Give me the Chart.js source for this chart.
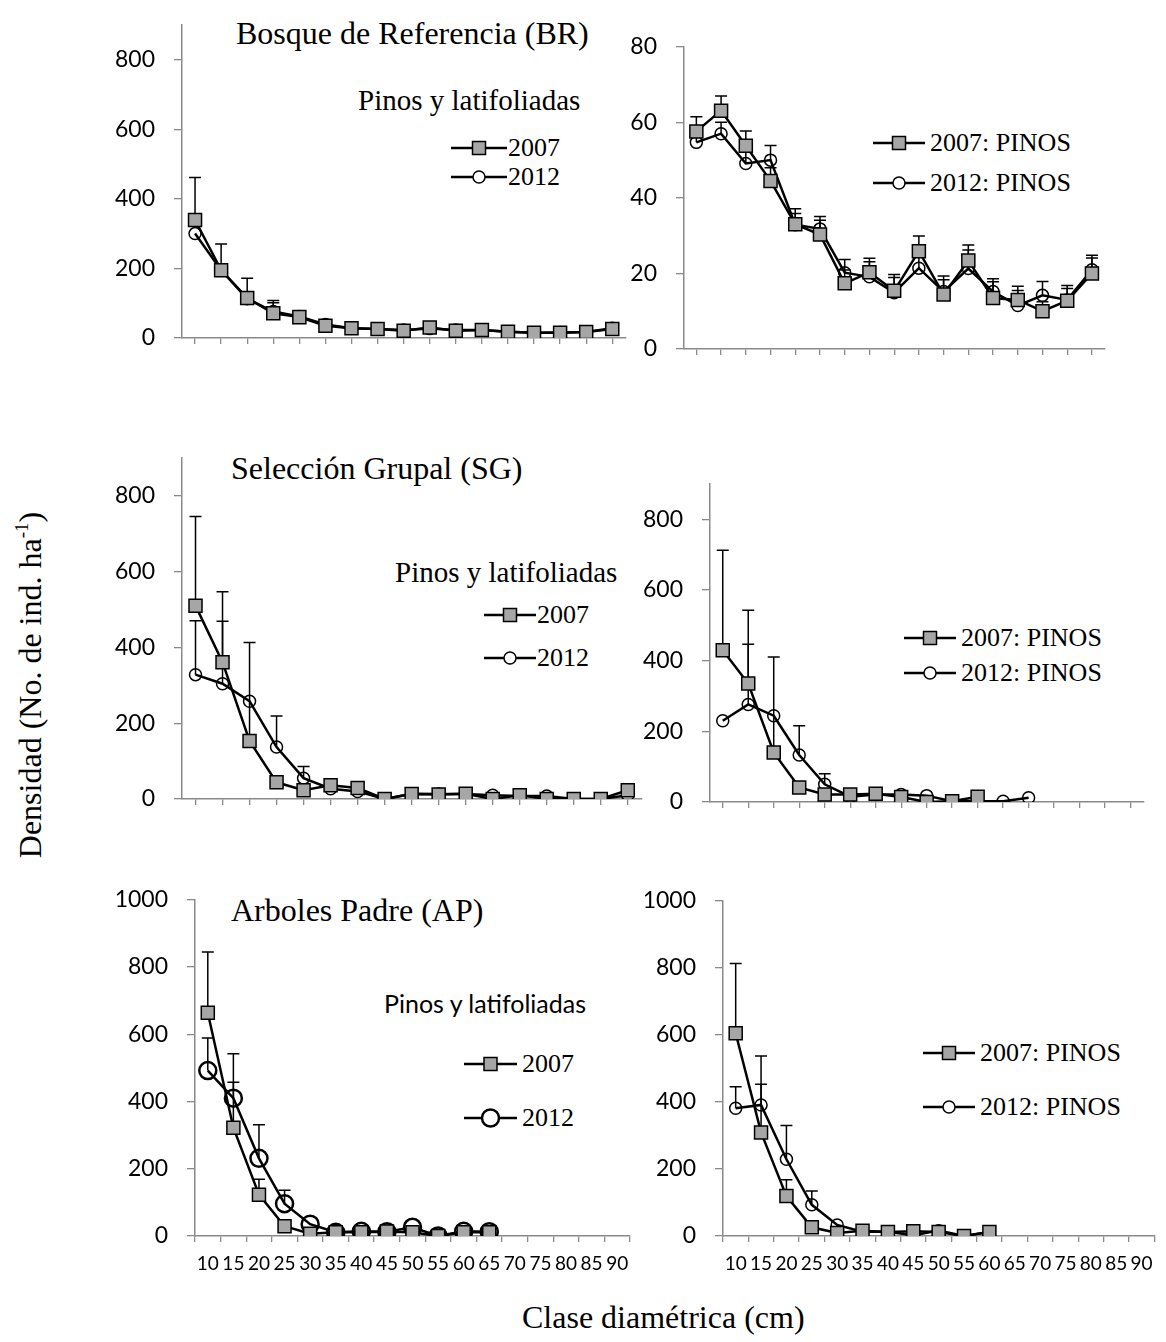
<!DOCTYPE html>
<html>
<head>
<meta charset="utf-8">
<script src="https://cdn.jsdelivr.net/npm/chart.js@4.4.1/dist/chart.umd.min.js"></script>
<style>
body{margin:0;background:#fff;width:1166px;height:1342px;position:relative;overflow:hidden}
.caja{position:absolute}
.t{position:absolute;white-space:nowrap;line-height:1;color:#000;font-family:'Liberation Serif','Times New Roman',serif}
.s{font-family:'Lato',sans-serif}
svg{position:absolute}
</style>
</head>
<body>

<!-- textos -->
<div class="t" style="left:236px;top:17px;font-size:32px">Bosque de Referencia (BR)</div>
<div class="t" style="left:358px;top:86px;font-size:29px">Pinos y latifoliadas</div>
<div class="t" style="left:508px;top:135px;font-size:26px">2007</div>
<div class="t" style="left:508px;top:164px;font-size:26px">2012</div>

<div class="t" style="left:930px;top:130px;font-size:26px">2007: PINOS</div>
<div class="t" style="left:930px;top:170px;font-size:26px">2012: PINOS</div>

<div class="t" style="left:231px;top:452px;font-size:32px">Selección Grupal (SG)</div>
<div class="t" style="left:395px;top:558px;font-size:29px">Pinos y latifoliadas</div>
<div class="t" style="left:537px;top:602px;font-size:26px">2007</div>
<div class="t" style="left:537px;top:645px;font-size:26px">2012</div>

<div class="t" style="left:961px;top:625px;font-size:26px">2007: PINOS</div>
<div class="t" style="left:961px;top:660px;font-size:26px">2012: PINOS</div>

<div class="t" style="left:231px;top:894px;font-size:32px">Arboles Padre (AP)</div>
<div class="t s" style="left:384px;top:991px;font-size:25px">Pinos y latifoliadas</div>
<div class="t" style="left:522px;top:1051px;font-size:26px">2007</div>
<div class="t" style="left:522px;top:1105px;font-size:26px">2012</div>

<div class="t" style="left:980px;top:1040px;font-size:26px">2007: PINOS</div>
<div class="t" style="left:980px;top:1094px;font-size:26px">2012: PINOS</div>

<div class="t" style="left:30px;top:685px;font-size:32px;transform:translate(-50%,-50%) rotate(-90deg)">Densidad (No. de ind. ha<span style="font-size:19px;position:relative;top:-13px">-1</span>)</div>
<div class="t" style="left:522px;top:1301px;font-size:32px">Clase diamétrica (cm)</div>

<!-- simbolos de leyenda -->
<svg style="left:451px;top:136px" width="56" height="24"><line x1="0" y1="12" x2="56" y2="12" stroke="#000" stroke-width="2.5"/><rect x="21.5" y="5.5" width="13" height="13" fill="#a6a6a6" stroke="#000" stroke-width="1.5"/></svg>
<svg style="left:451px;top:165px" width="56" height="24"><line x1="0" y1="12" x2="56" y2="12" stroke="#000" stroke-width="2.5"/><circle cx="28" cy="12" r="6" fill="#fff" stroke="#000" stroke-width="1.5"/></svg>

<svg style="left:873px;top:131px" width="52" height="24"><line x1="0" y1="12" x2="52" y2="12" stroke="#000" stroke-width="2.5"/><rect x="19.5" y="5.5" width="13" height="13" fill="#a6a6a6" stroke="#000" stroke-width="1.5"/></svg>
<svg style="left:873px;top:171px" width="52" height="24"><line x1="0" y1="12" x2="52" y2="12" stroke="#000" stroke-width="2.5"/><circle cx="26" cy="12" r="6" fill="#fff" stroke="#000" stroke-width="1.5"/></svg>

<svg style="left:484px;top:603px" width="52" height="24"><line x1="0" y1="12" x2="52" y2="12" stroke="#000" stroke-width="2.5"/><rect x="19.5" y="5.5" width="13" height="13" fill="#a6a6a6" stroke="#000" stroke-width="1.5"/></svg>
<svg style="left:484px;top:646px" width="52" height="24"><line x1="0" y1="12" x2="52" y2="12" stroke="#000" stroke-width="2.5"/><circle cx="26" cy="12" r="6" fill="#fff" stroke="#000" stroke-width="1.5"/></svg>

<svg style="left:904px;top:626px" width="52" height="24"><line x1="0" y1="12" x2="52" y2="12" stroke="#000" stroke-width="2.5"/><rect x="19.5" y="5.5" width="13" height="13" fill="#a6a6a6" stroke="#000" stroke-width="1.5"/></svg>
<svg style="left:904px;top:661px" width="52" height="24"><line x1="0" y1="12" x2="52" y2="12" stroke="#000" stroke-width="2.5"/><circle cx="26" cy="12" r="6" fill="#fff" stroke="#000" stroke-width="1.5"/></svg>

<svg style="left:464px;top:1052px" width="53" height="24"><line x1="0" y1="12" x2="53" y2="12" stroke="#000" stroke-width="2.5"/><rect x="20" y="5.5" width="13" height="13" fill="#a6a6a6" stroke="#000" stroke-width="1.5"/></svg>
<svg style="left:464px;top:1106px" width="53" height="24"><line x1="0" y1="12" x2="53" y2="12" stroke="#000" stroke-width="2.5"/><circle cx="26.5" cy="12" r="8.5" fill="#fff" stroke="#000" stroke-width="2.5"/></svg>

<svg style="left:923px;top:1041px" width="52" height="24"><line x1="0" y1="12" x2="52" y2="12" stroke="#000" stroke-width="2.5"/><rect x="19.5" y="5.5" width="13" height="13" fill="#a6a6a6" stroke="#000" stroke-width="1.5"/></svg>
<svg style="left:923px;top:1095px" width="52" height="24"><line x1="0" y1="12" x2="52" y2="12" stroke="#000" stroke-width="2.5"/><circle cx="26" cy="12" r="6" fill="#fff" stroke="#000" stroke-width="1.5"/></svg>

<script>
// Clases diametricas (cm)
const clases = ['10','15','20','25','30','35','40','45','50','55','60','65','70','75','80','85','90'];

// Bosque de Referencia - pinos y latifoliadas
const br2007 = [339,195,115,71,60,35,28,26,21,30,21,23,18,15,15,17,26];
const br2012 = [300,195,113,76,62,39,28,26,23,27,23,23,18,15,16,17,28];
const brErr2007 = [122,75,57,37,10,8,7,7,6,8,6,6,5,5,5,5,6];
const brErr2012 = [0,0,0,25,8,6,5,5,4,5,4,4,4,3,3,3,5];

// Bosque de Referencia - pinos
const brPinos2007 = [57.6,63.1,53.8,44.5,33.0,30.3,17.4,20.3,15.4,25.9,14.4,23.4,13.5,13.0,10.0,12.8,20.0];
const brPinos2012 = [54.7,57.0,49.1,50.0,32.9,31.8,20.2,19.1,14.9,21.4,15.2,21.3,15.2,11.5,14.2,13.0,21.0];
const brPinosErr2007 = [3.9,3.9,3.9,3.5,4.1,3.8,3.5,3.7,4.3,4.0,4.9,4.1,5.1,3.6,2.5,4.0,4.8];
const brPinosErr2012 = [3.0,3.0,3.0,3.9,3.0,3.3,3.5,4.0,4.0,3.0,3.1,4.9,2.6,4.0,3.7,3.0,3.1];

// Seleccion Grupal - pinos y latifoliadas
const sg2007 = [510,361,153,44,23,36,29,0,13,12,14,0,10,0,0,0,23];
const sg2012 = [328,304,258,137,55,27,20,0,14,13,13,10,8,8,0,0,10];
const sgErr2007 = [235,186,260];
const sgErr2012 = [142,165,0,82,31];

// Seleccion Grupal - pinos
const sgPinos2007 = [429,335,140,41,21,21,23,14,0,2,15];
const sgPinos2012 = [230,276,244,133,50,15,21,21,18,2,2,2,12];
const sgPinosErr2007 = [283,207,270];
const sgPinosErr2012 = [0,170,0,83,30];

// Arboles Padre - pinos y latifoliadas
const ap2007 = [664,322,123,29,7,11,11,13,11,0,11,11];
const ap2012 = [492,410,231,96,35,11,14,13,26,0,14,13];
const apErr2007 = [181,220,46];
const apErr2012 = [97,47,100,40];

// Arboles Padre - pinos
const apPinos2007 = [605,309,119,26,9,16,12,14,12,0,12];
const apPinos2012 = [381,391,229,93,33,13,13,2,16,0,12];
const apPinosErr2007 = [208,228,49];
const apPinosErr2012 = [64,62,101,41];

// Marcas del eje Y
const ticks900 = [0,200,400,600,800];
const ticks80 = [0,20,40,60,80];
const ticks1000 = [0,200,400,600,800,1000];

Chart.defaults.font.family = 'Lato';
Chart.defaults.color = '#000';

// Barras de error (solo hacia arriba)
const barrasError = {
    id: 'barrasError',
    beforeDatasetsDraw(chart) {
        const ctx = chart.ctx;
        const ejeY = chart.scales.y;
        chart.data.datasets.forEach((ds, i) => {
            if (!ds.errores) return;
            const meta = chart.getDatasetMeta(i);
            ctx.save();
            ctx.strokeStyle = '#000';
            ctx.lineWidth = 1.5;
            ds.errores.forEach((e, j) => {
                if (!e || ds.data[j] == null) return;
                const px = meta.data[j].x;
                const y0 = ejeY.getPixelForValue(ds.data[j]);
                const y1 = ejeY.getPixelForValue(ds.data[j] + e);
                ctx.beginPath();
                ctx.moveTo(px, y0); ctx.lineTo(px, y1);
                ctx.moveTo(px - 6, y1); ctx.lineTo(px + 6, y1);
                ctx.stroke();
            });
            ctx.restore();
        });
    }
};

function serie07(datos, err) {
    return { data: datos, errores: err, borderColor: '#000', borderWidth: 2.5,
        pointStyle: 'rect', pointRadius: 9.2, pointBackgroundColor: '#a6a6a6',
        pointBorderColor: '#000', pointBorderWidth: 1.5, tension: 0 };
}
function serie12(datos, err, grande) {
    return { data: datos, errores: err, borderColor: '#000', borderWidth: 2.5,
        pointStyle: 'circle', pointRadius: grande ? 8.5 : 6, pointBackgroundColor: 'rgba(0,0,0,0)',
        pointBorderColor: '#000', pointBorderWidth: grande ? 2.5 : 1.5, tension: 0 };
}

// Crear un panel; ejeX/arriba/abajo/derecha = limites del area de trazado
function panel(ejeX, arriba, abajo, derecha, yMax, yTicks, datasets, etiquetasX) {
    const div = document.createElement('div');
    div.className = 'caja';
    div.style.left = (ejeX - 90) + 'px';
    div.style.top = (arriba - 20) + 'px';
    div.style.width = (derecha - ejeX + 100) + 'px';
    div.style.height = (abajo - arriba + 60) + 'px';
    const cv = document.createElement('canvas');
    div.appendChild(cv);
    document.body.appendChild(div);
    new Chart(cv, {
        type: 'line',
        data: { labels: clases, datasets: datasets },
        plugins: [barrasError],
        options: {
            responsive: true, maintainAspectRatio: false, animation: false, events: [],
            layout: { padding: { top: 20, right: 10, left: 0, bottom: 0 } },
            plugins: { legend: { display: false }, tooltip: { enabled: false } },
            scales: {
                x: {
                    type: 'category', offset: true,
                    grid: { offset: etiquetasX, drawOnChartArea: false, drawTicks: true, tickLength: 6, tickColor: '#8a8a8a', lineWidth: 1.3 },
                    border: { color: '#8a8a8a', width: 1.5 },
                    ticks: { display: etiquetasX, autoSkip: false, maxRotation: 0, padding: 10,
                        font: { family: "'Liberation Sans Narrow', Lato", size: 19 }, color: '#000' },
                    afterFit: s => { s.height = 40; }
                },
                y: {
                    min: 0, max: yMax,
                    afterBuildTicks: s => { s.ticks = yTicks.map(v => ({ value: v })); },
                    grid: { drawOnChartArea: false, tickLength: 8, tickColor: '#8a8a8a', lineWidth: 1.3 },
                    border: { color: '#8a8a8a', width: 1.5 },
                    ticks: { padding: 19, font: { size: 23 }, color: '#000', callback: v => String(v) },
                    afterFit: s => { s.width = 90; }
                }
            }
        }
    });
}

panel(182, 12, 338, 626, 900, ticks900, [serie07(br2007, brErr2007), serie12(br2012, brErr2012)], false);
panel(684, 34, 349, 1105, 80, ticks80, [serie07(brPinos2007, brPinosErr2007), serie12(brPinos2012, brPinosErr2012)], false);
panel(182, 445, 799, 642, 900, ticks900, [serie07(sg2007, sgErr2007), serie12(sg2012, sgErr2012)], false);
panel(710, 471, 802, 1144, 900, ticks900, [serie07(sgPinos2007, sgPinosErr2007), serie12(sgPinos2012, sgPinosErr2012)], false);
panel(195, 887, 1236, 631, 1000, ticks1000, [serie07(ap2007, apErr2007), serie12(ap2012, apErr2012, true)], true);
panel(723, 888, 1236, 1155, 1000, ticks1000, [serie07(apPinos2007, apPinosErr2007), serie12(apPinos2012, apPinosErr2012)], true);
</script>
</body>
</html>
